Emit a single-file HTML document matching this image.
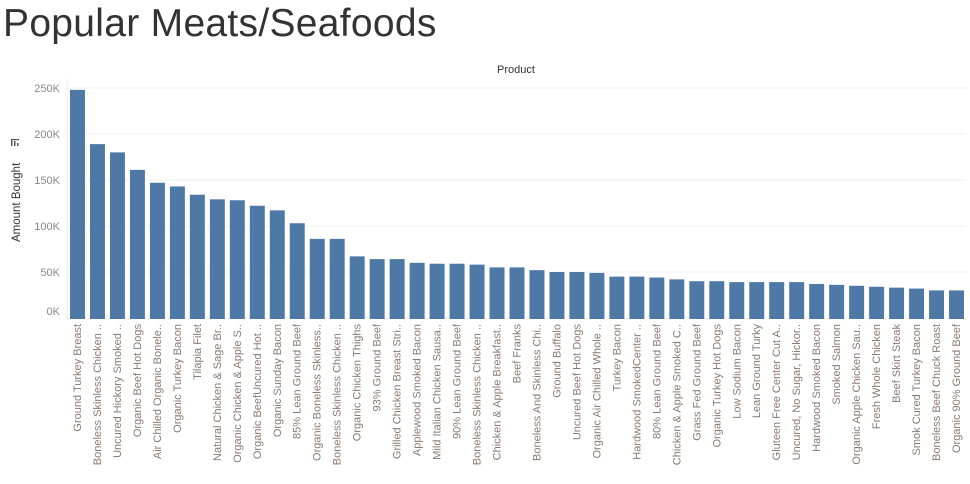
<!DOCTYPE html>
<html><head><meta charset="utf-8"><style>
body{margin:0;background:#fff;width:970px;height:484px;overflow:hidden;font-family:"Liberation Sans",sans-serif}
h1{position:absolute;left:3px;top:2px;margin:0;font-weight:normal;font-size:39px;letter-spacing:0.3px;color:#333}
</style></head><body>
<h1>Popular Meats/Seafoods</h1>
<svg id="c" width="970" height="484" style="position:absolute;left:0;top:0"></svg>
<script>
const categories=["Ground Turkey Breast","Boneless Skinless Chicken ..","Uncured Hickory Smoked ..","Organic Beef Hot Dogs","Air Chilled Organic Bonele..","Organic Turkey Bacon","Tilapia Filet","Natural Chicken & Sage Br..","Organic Chicken & Apple S..","Organic BeefUncured Hot ..","Organic Sunday Bacon","85% Lean Ground Beef","Organic Boneless Skinless..","Boneless Skinless Chicken ..","Organic Chicken Thighs","93% Ground Beef","Grilled Chicken Breast Stri..","Applewood Smoked Bacon","Mild Italian Chicken Sausa..","90% Lean Ground Beef","Boneless Skinless Chicken ..","Chicken & Apple Breakfast..","Beef Franks","Boneless And Skinless Chi..","Ground Buffalo","Uncured Beef Hot Dogs","Organic Air Chilled Whole ..","Turkey Bacon","Hardwood SmokedCenter ..","80% Lean Ground Beef","Chicken & Apple Smoked C..","Grass Fed Ground Beef","Organic Turkey Hot Dogs","Low Sodium Bacon","Lean Ground Turky","Gluteen Free Center Cut A..","Uncured, No Sugar, Hickor..","Hardwood Smoked Bacon","Smoked Salmon","Organic Apple Chicken Sau..","Fresh Whole Chicken","Beef Skirt Steak","Smok Cured Turkey Bacon","Boneless Beef Chuck Roast","Organic 90% Ground Beef"];
const values=[248,189,180,161,147,143,134,129,128,122,117,103,86,86,67,64,64,60,59,59,58,55,55,52,50,50,49,45,45,44,42,40,40,39,39,39,39,37,36,35,34,33,32,30,30];
const tickValues=[0,50,100,150,200,250];
const tickLabels=["0K","50K","100K","150K","200K","250K"];
const svg=document.getElementById('c');const NS='http://www.w3.org/2000/svg';
const x0=67,x1=966,yB=318,yT=88,maxV=250;
const y=v=>yB-(v/maxV)*(yB-yT);
const step=(x1-x0)/categories.length;
const xb=i=>x0+i*step;
function mk(t,a,p){const e=document.createElementNS(NS,t);for(const k in a)e.setAttribute(k,a[k]);(p||svg).appendChild(e);return e;}
tickValues.forEach((v,i)=>{
 const g=mk('line',{x1:x0,x2:x1,y1:y(v),y2:y(v),stroke:'#f0f0f0'});
 
 
 const t=mk('text',{x:60,y:(i==0?y(v)-3:y(v)+4),'text-anchor':'end','font-size':11,fill:'#888'});
 t.textContent=tickLabels[i];
 
 
});
const ax=mk('line',{x1:x0,x2:x0,y1:78,y2:yB+2,stroke:'#eee'});


const tt=mk('text',{x:516,y:73,'text-anchor':'middle','font-size':11,fill:'#333'});tt.textContent='Product';


const yt=mk('text',{x:0,y:0,transform:'translate(20,242) rotate(-90)','font-size':11.5,fill:'#333'});yt.textContent='Amount Bought';


const ic=mk('g',{fill:'#555'});


mk('rect',{x:11,y:139,width:1.5,height:7},ic);mk('rect',{x:14,y:141,width:1.5,height:5},ic);mk('rect',{x:17,y:143,width:1.5,height:3},ic);mk('rect',{x:11,y:139,width:8,height:1.2},ic);
categories.forEach((c,i)=>{
 const r=mk('rect',{x:xb(i)+3,y:y(values[i]),width:step-5,height:yB-y(values[i])+1,fill:'#4e79a7'});
 
 
 const cx=xb(i)+step/2+4;
 const t=mk('text',{x:0,y:0,transform:`translate(${cx},324) rotate(-90)`,'text-anchor':'end','font-size':11,fill:'#8a7a70'});
 t.textContent=c;
 
 
});
</script>
</body></html>
